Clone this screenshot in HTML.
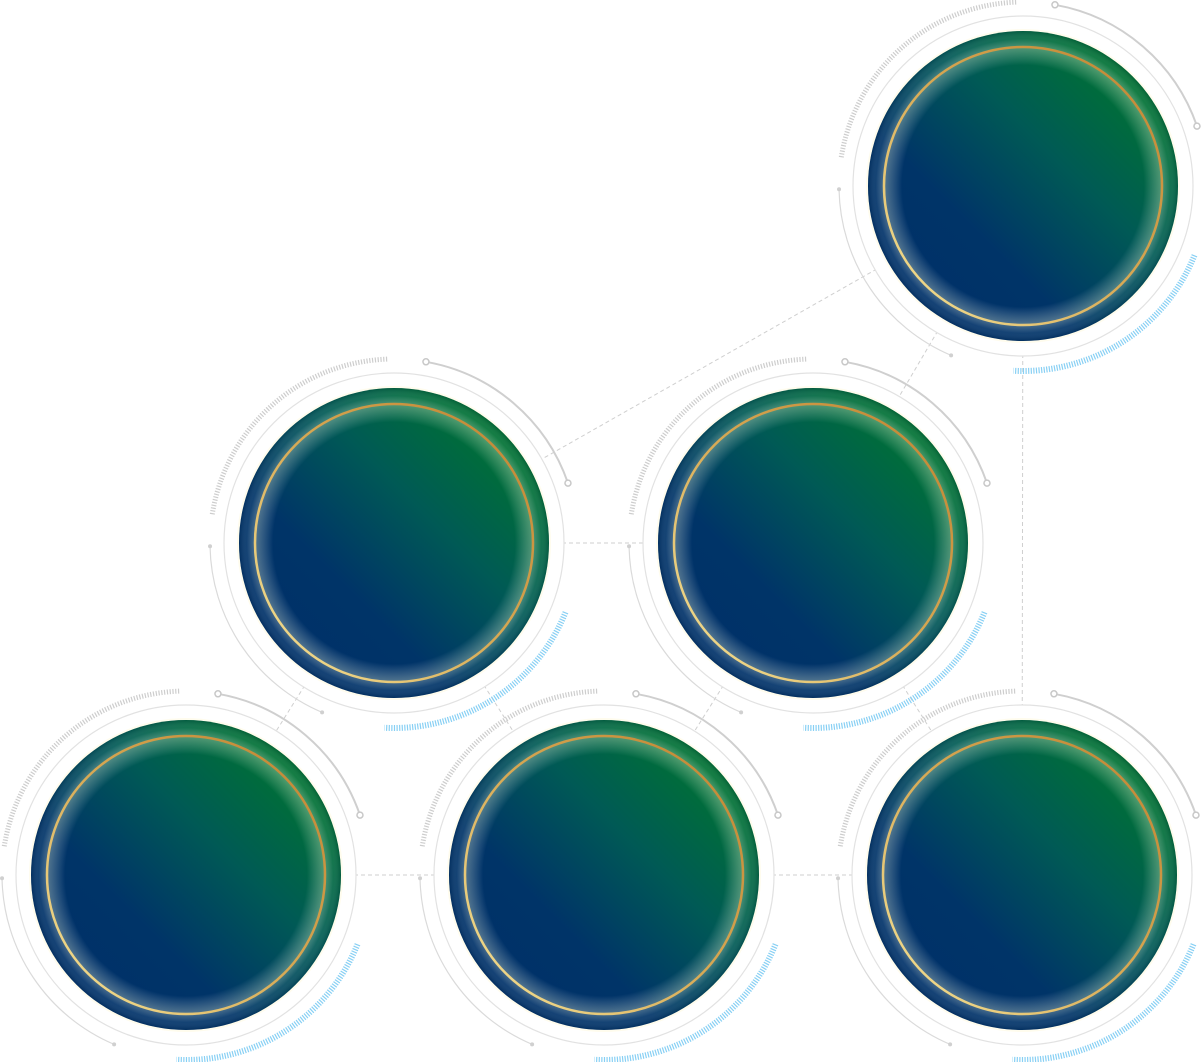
<!DOCTYPE html>
<html><head><meta charset="utf-8"><title>Network</title>
<style>html,body{margin:0;padding:0;background:#fff;}svg{display:block;}</style>
</head><body>
<svg id="chart" xmlns="http://www.w3.org/2000/svg" width="1201" height="1062" viewBox="0 0 1201 1062">
<defs>
<linearGradient id="base" x1="0" y1="1" x2="1" y2="0">
<stop offset="0" stop-color="#002f6a"/><stop offset="0.35" stop-color="#003468"/><stop offset="0.6" stop-color="#005a55"/><stop offset="0.85" stop-color="#007332"/><stop offset="1" stop-color="#017a35"/>
</linearGradient>
<radialGradient id="glow" cx="0.5" cy="0.5" r="0.5">
<stop offset="0" stop-color="#fff" stop-opacity="0"/><stop offset="0.78" stop-color="#fff" stop-opacity="0"/><stop offset="0.89" stop-color="#eef4d8" stop-opacity="0.33"/><stop offset="0.95" stop-color="#fff" stop-opacity="0.08"/><stop offset="1" stop-color="#0a1f3a" stop-opacity="0.2"/>
</radialGradient>
<linearGradient id="gold" x1="0" y1="1" x2="1" y2="0">
<stop offset="0" stop-color="#f6e69a"/><stop offset="0.5" stop-color="#d8aa55"/><stop offset="1" stop-color="#c0802e"/>
</linearGradient>
</defs>
<g id="links"></g>
<g id="nodes"></g>
</svg>
<script>
const nodes = [[1023,186],[394,543],[813,543],[186,875],[604,875],[1022,875]];
const nodeNames = ['node-top','node-middle-left','node-middle-right','node-bottom-left','node-bottom-center','node-bottom-right'];
const links = [[0,1],[0,2],[0,5],[1,2],[1,3],[1,4],[2,4],[2,5],[3,4],[4,5]];
const NS='http://www.w3.org/2000/svg';
const R=155;
function mk(tag,attrs,parent){const e=document.createElementNS(NS,tag);for(const k in attrs)e.setAttribute(k,attrs[k]);parent.appendChild(e);return e;}
function pt(cx,cy,r,a){const t=a*Math.PI/180;return [cx+r*Math.cos(t),cy+r*Math.sin(t)];}
function arc(cx,cy,r,a0,a1){const p0=pt(cx,cy,r,a0),p1=pt(cx,cy,r,a1);const large=Math.abs(a1-a0)>180?1:0;const sw=a1>a0?1:0;return `M${p0[0].toFixed(2)},${p0[1].toFixed(2)} A${r},${r} 0 ${large} ${sw} ${p1[0].toFixed(2)},${p1[1].toFixed(2)}`;}
const gl=document.getElementById('links');
links.forEach(([a,b])=>{
  const l=mk('line',{x1:nodes[a][0],y1:nodes[a][1],x2:nodes[b][0],y2:nodes[b][1],stroke:'#cfcfcf','stroke-width':1,'stroke-dasharray':'4 3'},gl);
  
  
});
const gn=document.getElementById('nodes');
nodes.forEach(([cx,cy],i)=>{
  const g=mk('g',{},gn);
  
  
  mk('circle',{cx,cy,r:170,fill:'#fff',stroke:'#e2e2e2','stroke-width':1.2},g);
  const ha=mk('path',{d:arc(cx,cy,184,-171,-92),fill:'none',stroke:'#cdcdcd','stroke-width':5,'stroke-dasharray':'1.2 1.6'},g);
  
  
  const oa=mk('path',{d:arc(cx,cy,184,-80,-19),fill:'none',stroke:'#cfcfcf','stroke-width':2},g);
  
  
  [-80,-19].forEach(a=>{const p=pt(cx,cy,184,a);mk('circle',{cx:p[0],cy:p[1],r:3,fill:'#fff',stroke:'#c8c8c8','stroke-width':1.5},g);});
  const la=mk('path',{d:arc(cx,cy,184,179,113),fill:'none',stroke:'#dadada','stroke-width':1.2},g);
  
  
  [179,113].forEach(a=>{const p=pt(cx,cy,184,a);mk('circle',{cx:p[0],cy:p[1],r:2,fill:'#d0d0d0'},g);});
  const ba=mk('path',{d:arc(cx,cy,185,22,93),fill:'none',stroke:'#88d0f4','stroke-width':6,'stroke-dasharray':'1.2 1.4'},g);
  
  
  mk('circle',{cx,cy,r:R+2,fill:'#fffbe8',opacity:0.8},g);
  mk('circle',{cx,cy,r:R,fill:'url(#base)'},g);
  mk('circle',{cx,cy,r:R,fill:'url(#glow)'},g);
  mk('circle',{cx,cy,r:139,fill:'none',stroke:'url(#gold)','stroke-width':2.5},g);
});
</script>
</body></html>
